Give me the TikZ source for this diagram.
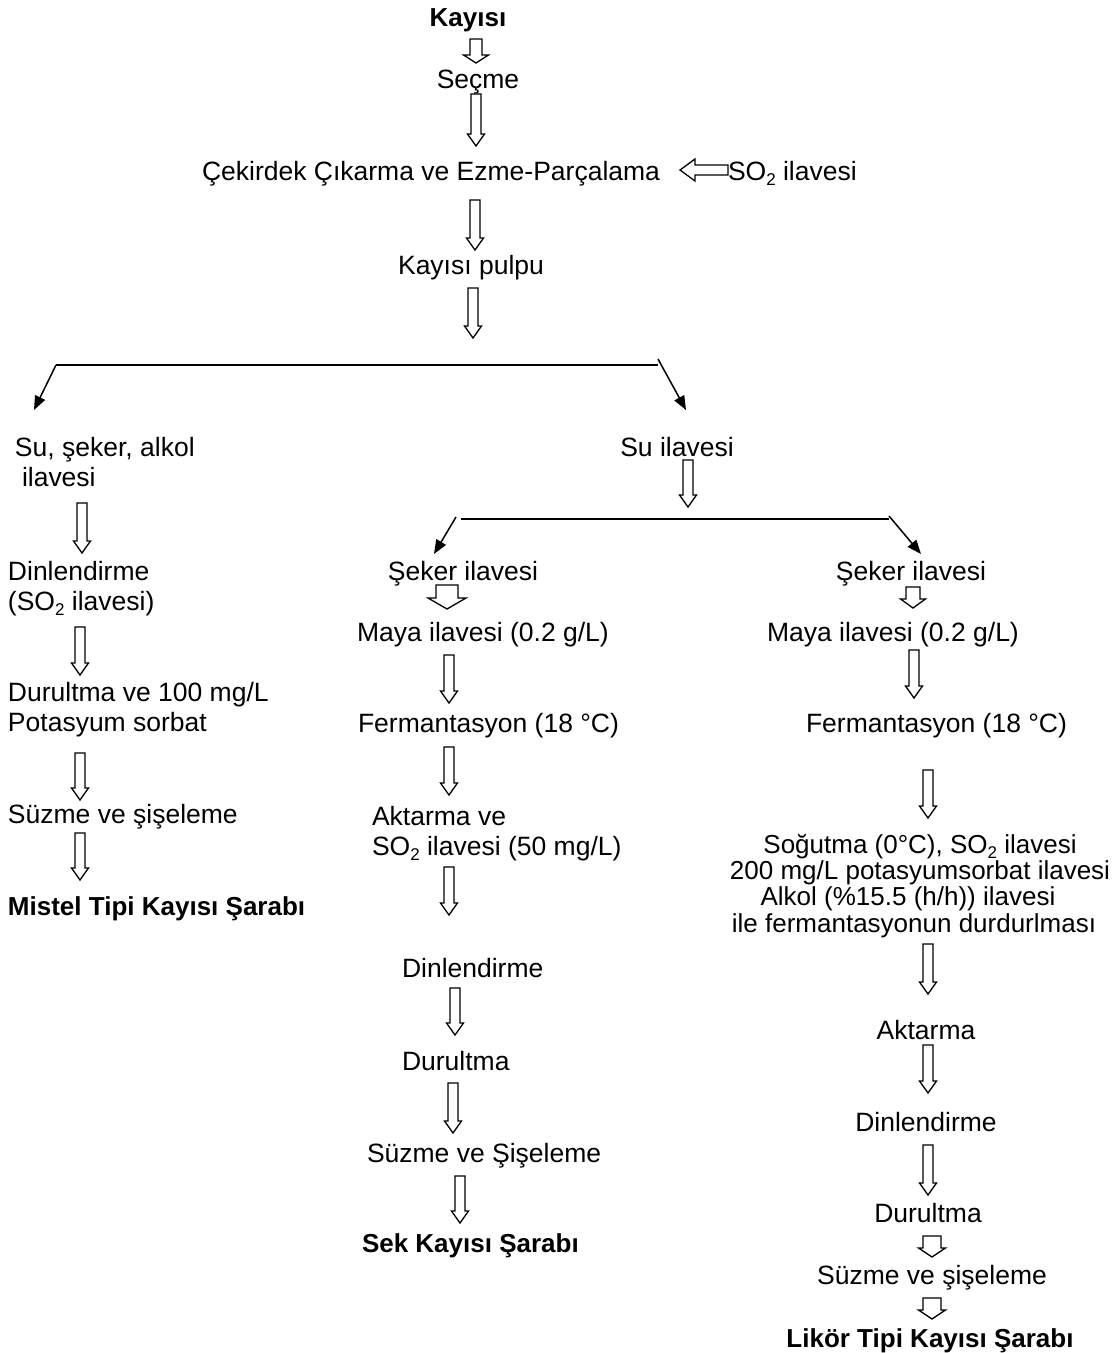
\documentclass[tikz,border=0pt]{standalone}
\usepackage{fontspec}
\setmainfont{Liberation Sans}
\usetikzlibrary{arrows.meta}
\newcommand{\sotwo}{SO\raisebox{-0.2em}[0pt][0pt]{\fontsize{17}{17}\selectfont 2}}
\newcommand{\mlines}[2]{\begin{tabular}[t]{@{}#1@{}}#2\end{tabular}}
% hollow block arrow pointing down: x, top y, tip y, shaft width, head width, head length
\newcommand{\barrow}[6]{%
  \draw[blk] ({#1-#4/2},#2) -- ({#1+#4/2},#2) -- ({#1+#4/2},{#3-#6}) -- ({#1+#5/2},{#3-#6})
    -- (#1,#3) -- ({#1-#5/2},{#3-#6}) -- ({#1-#4/2},{#3-#6}) -- cycle;}
\begin{document}
\begin{tikzpicture}[x=1pt,y=-1pt,
  every node/.style={inner sep=0pt,outer sep=0pt,font=\fontsize{26.5}{30}\selectfont},
  bold/.style={font=\fontsize{26}{30}\selectfont\bfseries},
  tight/.style={font=\fontsize{26}{25}\selectfont},
  blk/.style={draw=black,line width=1.3pt,fill=white,line join=miter},
  conn/.style={line width=1.5pt,-{Triangle[length=14pt,width=11pt]}},
  bar/.style={line width=1.5pt}]
\useasboundingbox[fill=white] (0,0) rectangle (1114,1353);

% ---------- top chain ----------
\node[bold,anchor=base] (kayisi) at (468,26) {Kayısı};
\node[anchor=base] (secme) at (478,88) {Seçme};
\node[anchor=base east] (cekirdek) at (660,180) {Çekirdek Çıkarma ve Ezme-Parçalama};
\node[anchor=base west] (so2) at (728,180) {\sotwo{} ilavesi};
\node[anchor=base] (pulpu) at (471,274) {Kayısı pulpu};

\barrow{476}{39}{63}{12}{25}{8}
\barrow{476}{94}{146}{10}{17}{12}
\barrow{475}{200}{250}{10}{17}{12}
\barrow{473}{288}{338}{10}{17}{12}
% left-pointing block arrow from SO2
\draw[blk] (728,165) -- (695,165) -- (695,159) -- (680,170) -- (695,181) -- (695,175) -- (728,175) -- cycle;

% ---------- first branching ----------
\coordinate (b1l) at (56,365);
\coordinate (b1r) at (658,365);
\coordinate (b1rs) at (658,359);
\coordinate (t1l) at (34,410);
\coordinate (t1r) at (686,410);
\draw[bar] (b1l) -- (b1r);
\draw[conn] (b1l) -- (t1l);
\draw[conn] (b1rs) -- (t1r);

% ---------- left column ----------
\node[anchor=base west] (sukal) at (15,456) {\mlines{l}{Su, şeker, alkol\\\hspace*{7pt}ilavesi}};
\node[anchor=base west] (dinlen1) at (8,580) {\mlines{l}{Dinlendirme\\(\sotwo{} ilavesi)}};
\node[anchor=base west] (durul1) at (8,701) {\mlines{l}{Durultma ve 100 mg/L\\Potasyum sorbat}};
\node[anchor=base west] (suzme1) at (8,823) {Süzme ve şişeleme};
\node[bold,anchor=base west] (mistel) at (8,915) {Mistel Tipi Kayısı Şarabı};

\barrow{82}{503}{553}{10}{17}{12}
\barrow{80}{627}{675}{10}{17}{12}
\barrow{80}{753}{800}{10}{17}{12}
\barrow{80}{833}{880}{10}{17}{12}

% ---------- Su ilavesi ----------
\node[anchor=base] (suil) at (677,456) {Su ilavesi};
\barrow{688}{460}{507}{10}{17}{12}

\coordinate (b2l) at (461,519);
\coordinate (b2r) at (889,519);
\coordinate (b2ls) at (456,517);
\coordinate (b2rs) at (889,516);
\coordinate (t2l) at (434,554);
\coordinate (t2r) at (921,554);
\draw[bar] (b2l) -- (b2r);
\draw[conn] (b2ls) -- (t2l);
\draw[conn] (b2rs) -- (t2r);

% ---------- middle column ----------
\node[anchor=base] (seker1) at (463,580) {Şeker ilavesi};
\node[anchor=base west] (maya1) at (357,641) {Maya ilavesi (0.2 g/L)};
\node[anchor=base west] (ferm1) at (358,732) {Fermantasyon (18 °C)};
\node[anchor=base west] (aktar1) at (372,825) {\mlines{l}{Aktarma ve\\\sotwo{} ilavesi (50 mg/L)}};
\node[anchor=base west] (dinlen2) at (402,977) {Dinlendirme};
\node[anchor=base west] (durul2) at (402,1070) {Durultma};
\node[anchor=base west] (suzme2) at (367,1162) {Süzme ve Şişeleme};
\node[bold,anchor=base west] (sek) at (362,1252) {Sek Kayısı Şarabı};

\barrow{447}{585}{609}{22}{38}{11}
\barrow{449}{655}{703}{10}{17}{12}
\barrow{449}{747}{795}{10}{17}{12}
\barrow{449}{867}{915}{10}{17}{12}
\barrow{455}{988}{1035}{10}{17}{12}
\barrow{453}{1083}{1133}{10}{17}{12}
\barrow{460}{1176}{1223}{10}{17}{12}

% ---------- right column ----------
\node[anchor=base] (seker2) at (911,580) {Şeker ilavesi};
\node[anchor=base west] (maya2) at (767,641) {Maya ilavesi (0.2 g/L)};
\node[anchor=base west] (ferm2) at (806,732) {Fermantasyon (18 °C)};
\node[tight,anchor=base] (sogut) at (920,853) {\mlines{c}{Soğutma (0°C), \sotwo{} ilavesi\\200 mg/L potasyumsorbat ilavesi\\Alkol (\%15.5 (h/h)) ilavesi\hspace*{24pt}\\ile fermantasyonun durdurlması\hspace*{12pt}}};
\node[anchor=base] (aktar2) at (926,1039) {Aktarma};
\node[anchor=base] (dinlen3) at (926,1131) {Dinlendirme};
\node[anchor=base] (durul3) at (928,1222) {Durultma};
\node[anchor=base] (suzme3) at (932,1284) {Süzme ve şişeleme};
\node[bold,anchor=base] (likor) at (930,1347) {Likör Tipi Kayısı Şarabı};

\barrow{913}{587}{608}{14}{25}{9}
\barrow{914}{650}{698}{10}{17}{12}
\barrow{928}{770}{818}{10}{17}{12}
\barrow{928}{944}{994}{10}{17}{12}
\barrow{928}{1045}{1093}{10}{17}{12}
\barrow{928}{1145}{1195}{10}{17}{12}
\barrow{932}{1236}{1257}{18}{27}{9}
\barrow{932}{1298}{1319}{18}{27}{9}
\end{tikzpicture}
\end{document}
